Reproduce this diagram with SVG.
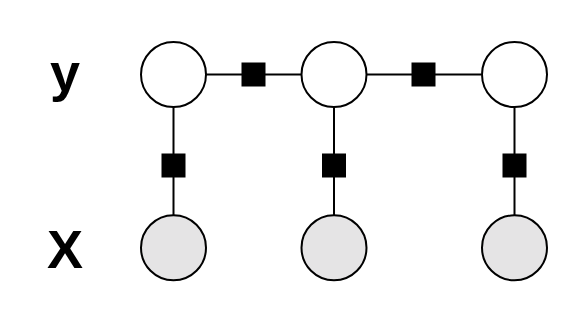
<svg xmlns="http://www.w3.org/2000/svg" width="581" height="323" viewBox="0 0 581 323">
<style>
.var{stroke:#000;stroke-width:2}
.hid{fill:#fff}
.obs{fill:#e5e4e5}
.fac{fill:#000}
.edge{stroke:#000;stroke-width:2;fill:none}
.lbl{font-family:"Liberation Sans",Arial,sans-serif;font-weight:bold;font-size:54px;fill:#000;text-anchor:middle}
</style>
<rect width="581" height="323" fill="#fff"/>
<g id="connectors">
<line class="edge" x1="206" y1="74.5" x2="301" y2="74.5"/>
<line class="edge" x1="367" y1="74.5" x2="481" y2="74.5"/>
<line class="edge" x1="173.5" y1="107" x2="173.5" y2="215"/>
<line class="edge" x1="334" y1="107" x2="334" y2="215"/>
<line class="edge" x1="514.5" y1="107" x2="514.5" y2="215"/>
</g>
<g id="factors">
<rect class="fac" x="241.5" y="62.5" width="24" height="24"/>
<rect class="fac" x="411.5" y="62.5" width="24" height="24"/>
<rect class="fac" x="161.5" y="153.5" width="24" height="24"/>
<rect class="fac" x="322" y="153.5" width="24" height="24"/>
<rect class="fac" x="502.5" y="153.5" width="24" height="24"/>
</g>
<g id="y1"><circle class="var hid" cx="173.5" cy="74.5" r="32.5"/></g>
<g id="y2"><circle class="var hid" cx="334" cy="74.5" r="32.5"/></g>
<g id="y3"><circle class="var hid" cx="514.5" cy="74.5" r="32.5"/></g>
<g id="x1"><circle class="var obs" cx="173.5" cy="247.8" r="32.5"/></g>
<g id="x2"><circle class="var obs" cx="334" cy="247.8" r="32.5"/></g>
<g id="x3"><circle class="var obs" cx="514.5" cy="247.8" r="32.5"/></g>
<g id="labels">
<text class="lbl" x="65" y="91">y</text>
<text class="lbl" x="65" y="267.5">X</text>
</g>
</svg>
